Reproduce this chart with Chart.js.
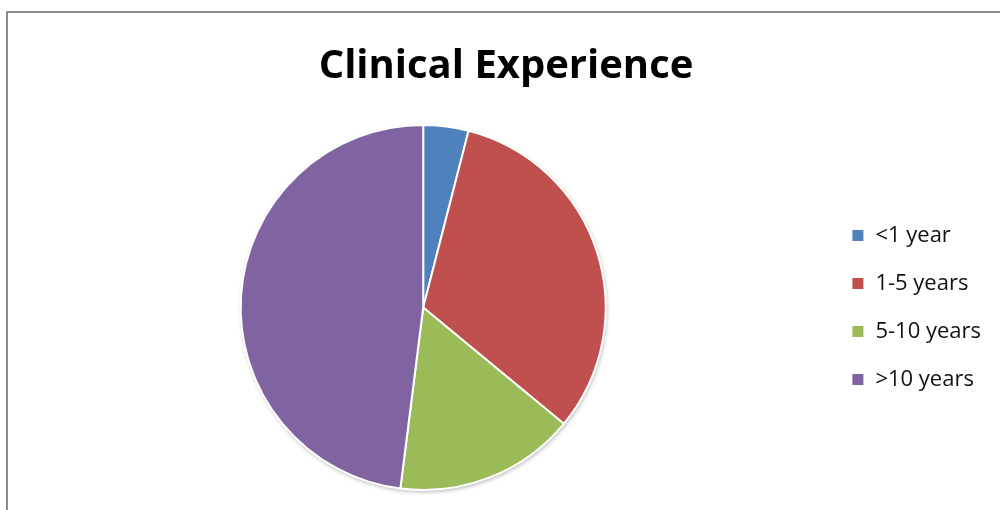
<!DOCTYPE html>
<html lang="en">
  <head>
    <meta charset="UTF-8" />
    <title>Clinical Experience</title>
    <script src="https://cdn.jsdelivr.net/npm/chart.js"></script>
    <style>
      body { margin: 0; background: #fff; }
      #wrap { position: relative; width: 1000px; height: 510px; overflow: hidden; }
      #frame {
        position: absolute; left: 6px; top: 11px; width: 1100px; height: 600px;
        border-left: 2px solid #8c8c8c; border-top: 2px solid #8c8c8c;
      }
      #myChart { position: absolute; left: 0; top: 0; }
    </style>
  </head>
  <body>
    <div id="wrap">
      <div id="frame"></div>
      <canvas id="myChart" width="1000" height="510"></canvas>
    </div>
    <script>
      const labels = ["<1 year", "1-5 years", "5-10 years", ">10 years"];
      const values = [4, 32, 16, 48];
      const colors = ["#4F81BD", "#C0504D", "#9BBB59", "#8064A2"];

      // soft shadow under the pie, like the office chart
      const pieShadow = {
        id: "pieShadow",
        beforeDatasetsDraw(chart) {
          const arc = chart.getDatasetMeta(0).data[0];
          if (!arc) return;
          const c = chart.ctx;
          c.save();
          c.shadowColor = "rgba(0,0,0,0.3)";
          c.shadowBlur = 4;
          c.shadowOffsetX = 1;
          c.shadowOffsetY = 2;
          c.fillStyle = "#ffffff";
          c.beginPath();
          c.arc(arc.x, arc.y, arc.outerRadius, 0, Math.PI * 2);
          c.fill();
          c.restore();
        },
      };

      const ctx = document.getElementById("myChart");

      const myChart = new Chart(ctx, {
        type: "pie",
        data: {
          labels: labels,
          datasets: [
            {
              data: values,
              backgroundColor: colors,
              borderColor: "#ffffff",
              borderWidth: 2,
            },
          ],
        },
        options: {
          responsive: false,
          animation: false,
          layout: { padding: { left: 21, right: 9, top: 0, bottom: 19 } },
          plugins: {
            title: {
              display: true,
              text: "Clinical Experience",
              color: "#000",
              font: { family: "Open Sans", size: 40, weight: "bold", lineHeight: 1.2 },
              padding: { top: 43, bottom: 33 },
            },
            legend: {
              position: "right",
              fullSize: false,
              labels: {
                color: "#111",
                font: { family: "Open Sans", size: 22 },
                boxWidth: 13,
                boxHeight: 13,
                padding: 26,
              },
            },
            tooltip: { enabled: false },
          },
        },
        plugins: [pieShadow],
      });
    </script>
  </body>
</html>
